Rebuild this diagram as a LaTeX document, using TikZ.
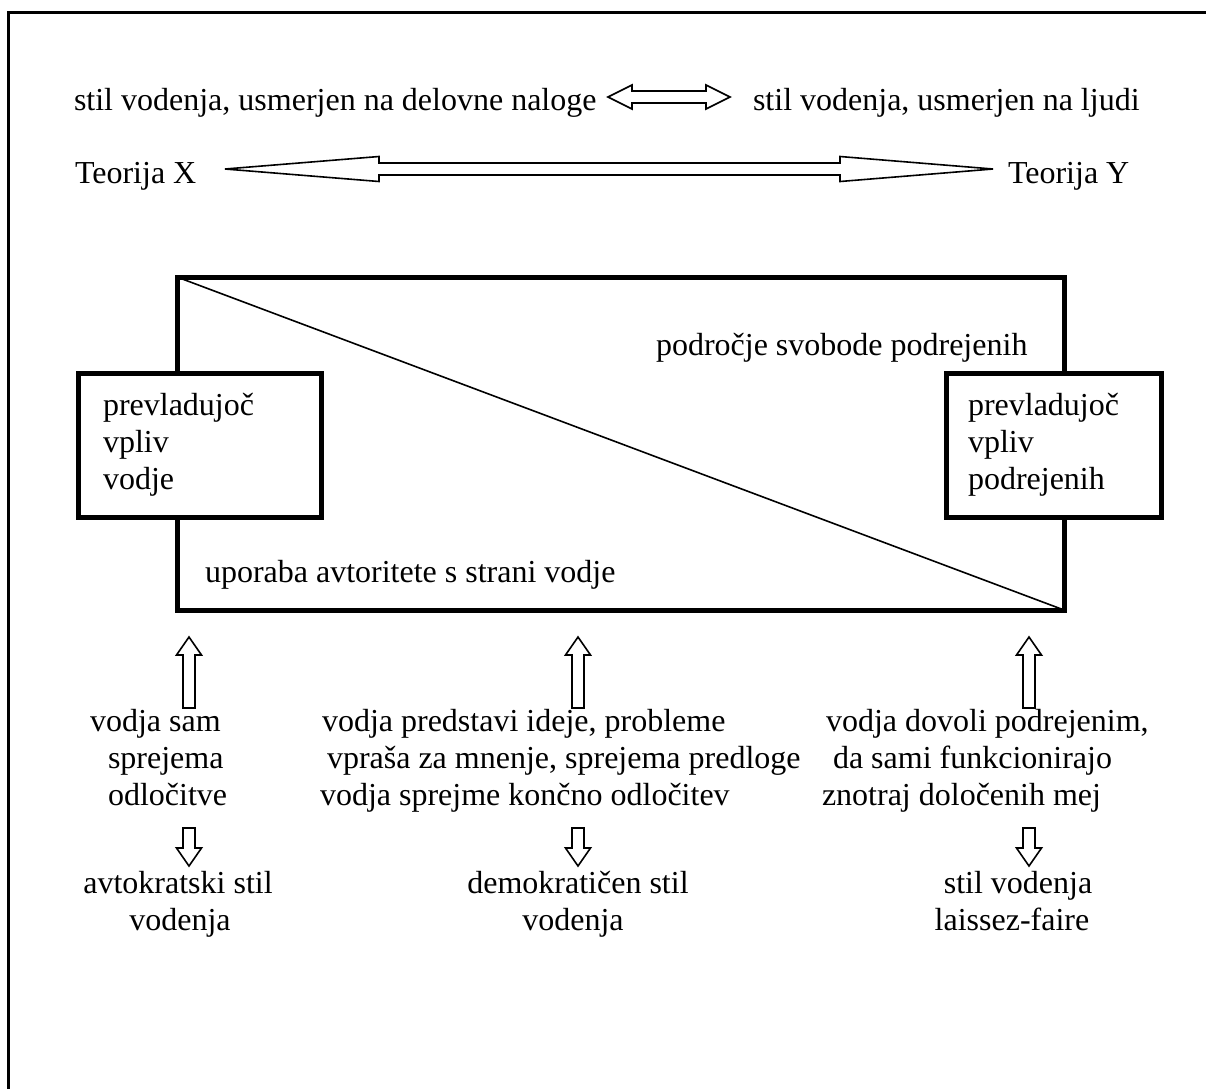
\documentclass[tikz,border=0pt]{standalone}
\usepackage{fontspec}
\setmainfont{Liberation Serif}
\begin{document}
\begin{tikzpicture}[x=1pt,y=-1pt,
  every node/.style={inner sep=0pt,outer sep=0pt},
  txt/.style={font=\fontsize{32}{36.8}\selectfont, anchor=base west},
  ctxt/.style={font=\fontsize{32}{36.8}\selectfont, anchor=base},
  thickbox/.style={draw, line width=5pt, fill=white},
  blockarrow/.style={draw, line width=1.6pt, fill=white, line join=miter},
  uparr/.pic={\draw[blockarrow] (-6,0) -- (-6,-53) -- (-12.5,-53) -- (0,-71) -- (12.5,-53) -- (6,-53) -- (6,0) -- cycle;},
  downarr/.pic={\draw[blockarrow] (-6,0) -- (-6,20) -- (-12.5,20) -- (0,38) -- (12.5,20) -- (6,20) -- (6,0) -- cycle;}
]
\useasboundingbox (0,0) rectangle (1206,1088);
% outer frame
\draw[line width=3pt] (8,1090) -- (8,12) -- (1210,12);

% top row
\node[txt] (s1) at (74,110) {stil vodenja, usmerjen na delovne naloge};
\node[txt] (s2) at (753,110) {stil vodenja, usmerjen na ljudi};
\draw[blockarrow] (608,97) -- (632,85) -- (632,91) -- (706,91) -- (706,85) -- (730,97)
  -- (706,109) -- (706,103) -- (632,103) -- (632,109) -- cycle;

% theory row
\node[txt] (tx) at (75,183) {Teorija X};
\node[txt] (ty) at (1008,183) {Teorija Y};
\draw[blockarrow] (225,169) -- (379,156.5) -- (379,163) -- (840,163) -- (840,156.5) -- (993,169)
  -- (840,181.5) -- (840,175) -- (379,175) -- (379,181.5) -- cycle;

% big rectangle
\node[draw, line width=5pt, minimum width=887pt, minimum height=333pt] (big) at (620.5,443.5) {};
\draw[line width=1.6pt] (big.north west) -- (big.south east);
\node[txt] (free) at (656,355) {področje svobode podrejenih};
\node[txt] (auth) at (205,582) {uporaba avtoritete s strani vodje};

% side boxes
\node[thickbox, minimum width=243pt, minimum height=144pt] (lbox) at (199.5,445) {};
\node[thickbox, minimum width=215pt, minimum height=144pt] (rbox) at (1053.5,445) {};
\node[txt] (l1) at (103,415) {prevladujoč};
\node[txt] (l2) at (103,452) {vpliv};
\node[txt] (l3) at (103,489) {vodje};
\node[txt] (r1) at (968,415) {prevladujoč};
\node[txt] (r2) at (968,452) {vpliv};
\node[txt] (r3) at (968,489) {podrejenih};

% up arrows
\pic at (189,708) {uparr};
\pic at (578,708) {uparr};
\pic at (1029,708) {uparr};

% descriptions
\node[txt] (a1) at (90,731) {vodja sam};
\node[txt] (a2) at (108,768) {sprejema};
\node[txt] (a3) at (108,805) {odločitve};
\node[txt] (b1) at (322,731) {vodja predstavi ideje, probleme};
\node[txt] (b2) at (327,768) {vpraša za mnenje, sprejema predloge};
\node[txt] (b3) at (320,805) {vodja sprejme končno odločitev};
\node[txt] (c1) at (826,731) {vodja dovoli podrejenim,};
\node[txt] (c2) at (833,768) {da sami funkcionirajo};
\node[txt] (c3) at (822,805) {znotraj določenih mej};

% down arrows
\pic at (189,828) {downarr};
\pic at (578,828) {downarr};
\pic at (1029,828) {downarr};

% styles
\node[ctxt] (d1) at (178,893) {avtokratski stil};
\node[ctxt] (d2) at (180,930) {vodenja};
\node[ctxt] (e1) at (578,893) {demokratičen stil};
\node[ctxt] (e2) at (573,930) {vodenja};
\node[ctxt] (f1) at (1018,893) {stil vodenja};
\node[ctxt] (f2) at (1012,930) {laissez-faire};
\end{tikzpicture}
\end{document}
